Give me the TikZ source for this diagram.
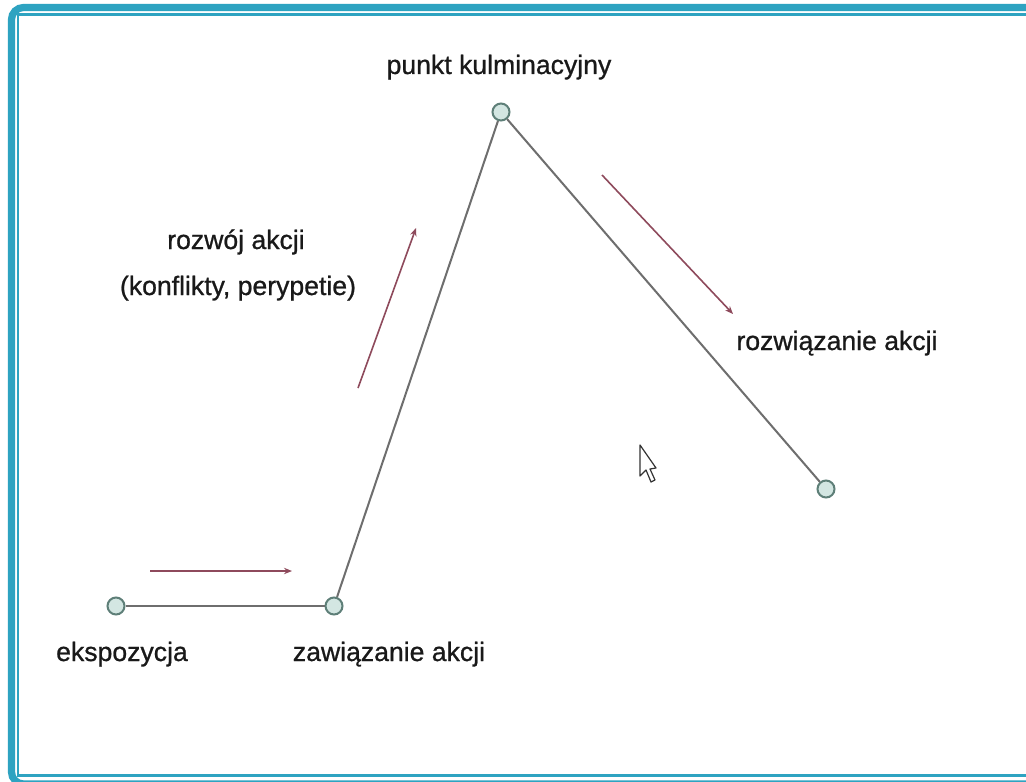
\documentclass[tikz,border=0pt]{standalone}
\usepackage{fontspec}
\setmainfont{Liberation Sans}
\newfontfamily\lblfont[FakeBold=0.8]{Liberation Sans}
\usetikzlibrary{arrows.meta}
\definecolor{framec}{HTML}{2EA3C1}
\definecolor{ptfill}{HTML}{D3E6E2}
\definecolor{ptdraw}{HTML}{5E7F78}
\definecolor{linec}{HTML}{6E6E6E}
\definecolor{arrc}{HTML}{8E4A5C}
\begin{document}
\begin{tikzpicture}[x=0.5pt,y=-0.5pt,
  pnt/.style={circle,draw=ptdraw,fill=ptfill,line width=1pt,minimum size=8.5pt,inner sep=0pt},
  lbl/.style={font=\lblfont\fontsize{13.3}{16}\selectfont,text=black!90,inner sep=0pt,text height=0.72em,text depth=0.22em},
  conn/.style={draw=linec,line width=1pt},
  redarr/.style={draw=arrc,line width=0.8pt,-{Stealth[length=4pt,width=3.2pt]}}]
\useasboundingbox (0,0) rectangle (1026,781);
\fill[white] (0,0) rectangle (1026,781);
% frame
\draw[framec,line width=3.6pt,rounded corners=6pt] (11.5,7.5) rectangle (1045,784);
\draw[framec,line width=1.2pt] (18,14.5) rectangle (1040,775.5);
% points
\node[pnt] (eks) at (116,606) {};
\node[pnt] (zaw) at (334,606) {};
\node[pnt] (kul) at (501,112) {};
\node[pnt] (roz) at (826,489) {};
\draw[conn] (eks) -- (zaw);
\draw[conn] (zaw) -- (kul);
\draw[conn] (kul) -- (roz);
% labels
\node[lbl] (leks) at (122,656) {ekspozycja};
\node[lbl] (lzaw) at (389,656) {zawiązanie akcji};
\node[lbl] (lkul) at (499,69) {punkt kulminacyjny};
\node[lbl] (lroz) at (837,345) {rozwiązanie akcji};
\node[lbl] (lrow) at (236,244) {rozwój akcji};
\node[lbl] (lkon) at (238,290) {(konflikty, perypetie)};
% red arrows
\coordinate (a1s) at (150,571); \coordinate (a1e) at (292,571);
\coordinate (a2s) at (358,388); \coordinate (a2e) at (416,228);
\coordinate (a3s) at (602,175); \coordinate (a3e) at (733,314);
\draw[redarr] (a1s) -- (a1e);
\draw[redarr] (a2s) -- (a2e);
\draw[redarr] (a3s) -- (a3e);
% cursor
\draw[black!80,fill=white,line width=0.6pt,line join=round] (640,445) -- (640,476) -- (646,470) -- (651,482) -- (655,480) -- (650,469) -- (656,468) -- cycle;
\end{tikzpicture}
\end{document}
